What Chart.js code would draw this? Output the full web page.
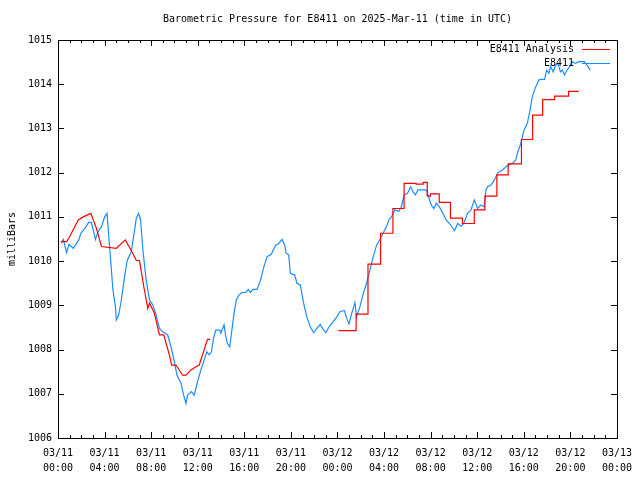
<!DOCTYPE html>
<html>
<head>
<meta charset="utf-8">
<script src="https://cdn.jsdelivr.net/npm/chart.js@4.4.1/dist/chart.umd.min.js"></script>
<style>
  html, body { margin: 0; padding: 0; background: #fff; }
  canvas { display: block; }
</style>
</head>
<body>
<canvas id="chart" width="640" height="480"></canvas>
<script>
// Data (hours since 03/11 00:00 UTC, pressure in mb)
const obsHours = [0.26, 0.45, 0.74, 0.94, 1.31, 1.79, 1.96, 2.31, 2.65, 2.87, 3.22, 3.44, 3.73, 4.01, 4.21, 4.44, 4.72, 4.93, 5.01, 5.21,
  5.44, 5.72, 5.95, 6.29, 6.58, 6.72, 6.92, 7.09, 7.29, 7.57, 7.86, 8.14, 8.43, 8.71, 9.00, 9.42, 9.71, 9.93, 10.22, 10.56,
  10.79, 10.99, 11.13, 11.47, 11.70, 11.98, 12.27, 12.55, 12.78, 12.98, 13.18, 13.35, 13.55, 13.89, 13.98, 14.26, 14.41, 14.55, 14.75, 14.97,
  15.12, 15.31, 15.54, 15.77, 16.11, 16.34, 16.54, 16.74, 17.10, 17.39, 17.68, 17.96, 18.33, 18.68, 18.96, 19.24, 19.47, 19.58, 19.81, 19.96,
  20.32, 20.52, 20.81, 21.09, 21.37, 21.66, 21.95, 22.23, 22.52, 22.71, 23.00, 23.29, 23.57, 23.94, 24.22, 24.59, 24.79, 24.99, 25.22, 25.50,
  25.64, 25.93, 26.22, 26.50, 26.79, 27.07, 27.36, 27.64, 27.92, 28.21, 28.41, 28.63, 28.92, 29.26, 29.49, 29.72, 30.00, 30.29, 30.49, 30.69,
  30.91, 31.34, 31.62, 31.77, 32.05, 32.28, 32.48, 32.77, 33.05, 33.33, 33.62, 34.05, 34.33, 34.61, 34.84, 35.18, 35.47, 35.75, 36.04, 36.32,
  36.60, 36.75, 36.89, 37.18, 37.46, 37.75, 38.17, 38.46, 38.74, 39.03, 39.31, 39.45, 39.74, 40.02, 40.31, 40.54, 40.73, 41.02, 41.31, 41.50,
  41.79, 41.96, 42.16, 42.30, 42.53, 42.72, 42.93, 43.15, 43.30, 43.49, 43.72, 43.95, 44.15, 44.43, 44.72, 45.20, 45.43, 45.71];
const obsPressure = [1010.40, 1010.49, 1010.19, 1010.38, 1010.29, 1010.48, 1010.63, 1010.74, 1010.88, 1010.87, 1010.49, 1010.67, 1010.78, 1011.00, 1011.08, 1010.29, 1009.35, 1008.97, 1008.67, 1008.78,
  1009.12, 1009.65, 1010.02, 1010.21, 1010.70, 1010.97, 1011.08, 1010.93, 1010.25, 1009.57, 1009.12, 1009.01, 1008.78, 1008.48, 1008.40, 1008.33, 1008.06, 1007.80, 1007.42, 1007.24,
  1006.97, 1006.78, 1006.97, 1007.05, 1006.97, 1007.27, 1007.54, 1007.76, 1007.95, 1007.88, 1007.95, 1008.25, 1008.44, 1008.44, 1008.37, 1008.56, 1008.29, 1008.14, 1008.06, 1008.52,
  1008.82, 1009.12, 1009.23, 1009.29, 1009.29, 1009.36, 1009.29, 1009.36, 1009.36, 1009.57, 1009.87, 1010.10, 1010.16, 1010.36, 1010.40, 1010.49, 1010.36, 1010.18, 1010.14, 1009.72,
  1009.69, 1009.50, 1009.46, 1009.05, 1008.74, 1008.52, 1008.38, 1008.48, 1008.57, 1008.48, 1008.38, 1008.52, 1008.61, 1008.74, 1008.86, 1008.88, 1008.71, 1008.58, 1008.82, 1009.06,
  1008.74, 1008.97, 1009.27, 1009.50, 1009.80, 1010.10, 1010.36, 1010.49, 1010.63, 1010.78, 1010.93, 1011.00, 1011.16, 1011.12, 1011.23, 1011.50, 1011.53, 1011.68, 1011.57, 1011.50,
  1011.61, 1011.61, 1011.61, 1011.50, 1011.27, 1011.19, 1011.31, 1011.22, 1011.08, 1010.93, 1010.85, 1010.69, 1010.85, 1010.79, 1010.85, 1011.08, 1011.16, 1011.38, 1011.19, 1011.27,
  1011.23, 1011.61, 1011.68, 1011.72, 1011.83, 1011.99, 1012.06, 1012.13, 1012.19, 1012.21, 1012.29, 1012.44, 1012.66, 1012.96, 1013.12, 1013.42, 1013.72, 1013.94, 1014.10, 1014.11,
  1014.11, 1014.32, 1014.25, 1014.40, 1014.28, 1014.43, 1014.47, 1014.28, 1014.32, 1014.21, 1014.32, 1014.40, 1014.51, 1014.47, 1014.51, 1014.51, 1014.43, 1014.32];

// analysis, first day (fine resolution)
const anaHours1 = [0.25, 0.74, 1.00, 1.74, 2.16, 2.82, 3.30, 3.73, 5.01, 5.78, 6.35, 6.72, 7.00, 7.37, 7.71, 7.86, 8.28, 8.71, 9.08, 9.56,
  9.76, 10.13, 10.70, 10.99, 11.42, 11.84, 12.13, 12.84, 13.07];
const anaPressure1 = [1010.44, 1010.44, 1010.55, 1010.93, 1011.00, 1011.08, 1010.74, 1010.33, 1010.29, 1010.48, 1010.21, 1010.02, 1010.01, 1009.42, 1008.93, 1009.05, 1008.82, 1008.33, 1008.33, 1007.88,
  1007.65, 1007.65, 1007.42, 1007.42, 1007.54, 1007.61, 1007.65, 1008.23, 1008.23];
// analysis, second day (hourly steps)
const anaHours2 = [24.08, 25.60, 26.62, 27.70, 28.76, 29.72, 30.75, 31.36, 31.71, 31.98, 32.74, 33.70, 34.73, 35.75, 36.66, 37.69, 38.66, 39.80, 40.76, 41.62,
  42.64, 43.85, 44.72];
const anaPressure2 = [1008.43, 1008.80, 1009.93, 1010.63, 1011.19, 1011.76, 1011.74, 1011.78, 1011.47, 1011.52, 1011.33, 1010.97, 1010.85, 1011.16, 1011.47, 1011.95, 1012.20, 1012.75, 1013.30, 1013.65,
  1013.73, 1013.84, 1013.84];

const xTickDates = ['03/11', '03/11', '03/11', '03/11', '03/11', '03/11', '03/12', '03/12', '03/12', '03/12', '03/12', '03/12', '03/13'];
const xTickTimes = ['00:00', '04:00', '08:00', '12:00', '16:00', '20:00', '00:00', '04:00', '08:00', '12:00', '16:00', '20:00', '00:00'];

const RED = '#ff0000';
const BLUE = '#1a8cff';
const FONT = '"DejaVu Sans Mono", "Liberation Mono", monospace';

const toPoints = (xs, ys) => xs.map((x, i) => ({ x: x, y: ys[i] }));

// gnuplot-ish frame, inward ticks, title, legend
const framePlugin = {
    id: 'frame',
    afterDraw(chart) {
        const ctx = chart.ctx;
        const a = chart.chartArea;
        const xs = chart.scales.x, ys = chart.scales.y;
        ctx.save();
        ctx.strokeStyle = '#000';
        ctx.lineWidth = 1;
        ctx.beginPath();
        for (let h = 0; h <= 48; h++) {
            const px = Math.round(xs.getPixelForValue(h)) + 0.5;
            const len = h % 4 === 0 ? 6 : 3;
            ctx.moveTo(px, a.bottom); ctx.lineTo(px, a.bottom - len);
            ctx.moveTo(px, a.top); ctx.lineTo(px, a.top + len);
        }
        for (let v = 1006; v <= 1015; v++) {
            const py = Math.round(ys.getPixelForValue(v)) + 0.5;
            ctx.moveTo(a.left, py); ctx.lineTo(a.left + 6, py);
            ctx.moveTo(a.right, py); ctx.lineTo(a.right - 6, py);
        }
        ctx.stroke();
        ctx.strokeRect(Math.round(a.left) + 0.5, Math.round(a.top) + 0.5, Math.round(a.right - a.left), Math.round(a.bottom - a.top));

        ctx.fillStyle = '#000';
        ctx.font = '10px ' + FONT;
        ctx.textBaseline = 'middle';
        ctx.textAlign = 'center';
        ctx.fillText('Barometric Pressure for E8411 on 2025-Mar-11 (time in UTC)', (a.left + a.right) / 2, 19);

        ctx.save();
        ctx.translate(12, (a.top + a.bottom) / 2);
        ctx.rotate(-Math.PI / 2);
        ctx.fillText('milliBars', 0, 0);
        ctx.restore();

        // legend
        ctx.textAlign = 'right';
        const items = chart.data.datasets.filter(d => !d.hideInKey);
        items.forEach((d, i) => {
            const y = 49 + i * 14;
            ctx.fillStyle = '#000';
            ctx.fillText(d.label, 574, y);
            ctx.strokeStyle = d.borderColor;
            ctx.beginPath();
            ctx.moveTo(582, y + 0.5); ctx.lineTo(610, y + 0.5);
            ctx.stroke();
        });
        ctx.restore();
    }
};

new Chart(document.getElementById('chart'), {
    type: 'line',
    data: {
        datasets: [
            { label: 'E8411 Analysis', data: toPoints(anaHours1, anaPressure1), borderColor: RED, borderWidth: 1.2, pointRadius: 0, tension: 0 },
            { label: 'E8411 Analysis', hideInKey: true, data: toPoints(anaHours2, anaPressure2), borderColor: RED, borderWidth: 1.2, pointRadius: 0, stepped: 'before' },
            { label: 'E8411', data: toPoints(obsHours, obsPressure), borderColor: BLUE, borderWidth: 1.2, pointRadius: 0, tension: 0 }
        ]
    },
    options: {
        responsive: false,
        animation: false,
        devicePixelRatio: 1,
        layout: { padding: { top: 40, right: 19, left: 0, bottom: 0 } },
        plugins: { legend: { display: false }, title: { display: false }, tooltip: { enabled: false } },
        scales: {
            x: {
                type: 'linear', min: 0, max: 48,
                grid: { display: false, drawTicks: false }, border: { display: false },
                afterFit: s => { s.height = 42; },
                ticks: {
                    stepSize: 4, autoSkip: false, maxRotation: 0, padding: 8,
                    color: '#000', font: { family: FONT, size: 10, lineHeight: 1.5 },
                    callback: v => [xTickDates[v / 4], xTickTimes[v / 4]]
                }
            },
            y: {
                min: 1006, max: 1015,
                grid: { display: false, drawTicks: false }, border: { display: false },
                afterFit: s => { s.width = 58; },
                ticks: { stepSize: 1, padding: 6, color: '#000', font: { family: FONT, size: 10 }, callback: v => String(v) }
            }
        }
    },
    plugins: [framePlugin]
});
</script>
</body>
</html>
